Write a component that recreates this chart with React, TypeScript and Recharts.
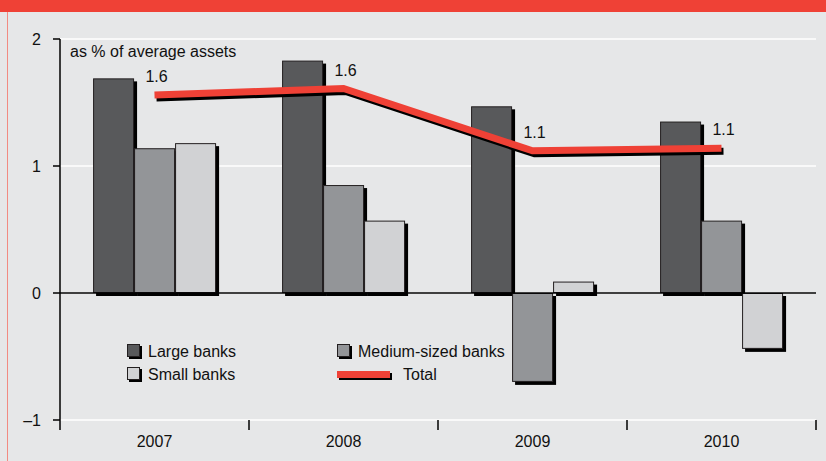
import React from 'react';
import {
  ComposedChart,
  Bar,
  Line,
  XAxis,
  YAxis,
  CartesianGrid,
  ReferenceLine,
  LabelList,
} from 'recharts';

const years = ['2007', '2008', '2009', '2010'];
const largeBanks = [1.69, 1.83, 1.47, 1.35];
const mediumBanks = [1.14, 0.85, -0.7, 0.57];
const smallBanks = [1.18, 0.57, 0.09, -0.44];
const total = [1.56, 1.61, 1.12, 1.14];
const yTicks = [-1, 0, 1, 2];

const data = years.map((year, i) => ({
  year,
  large: largeBanks[i],
  medium: mediumBanks[i],
  small: smallBanks[i],
  total: total[i],
}));

const RED = '#ef4136';
const BG = '#e6e7e8';

// bar with a hard black drop shadow, like the printed original
function ShadowBar(props: any) {
  const { x, y, width, height, fill } = props;
  if (!width || height == null) return null;
  const top = height < 0 ? y + height : y;
  const h = Math.abs(height);
  return (
    <g>
      <rect x={x + 3} y={top + 3} width={width} height={h} fill="#000" />
      <rect
        x={x + 0.5}
        y={top + 0.5}
        width={Math.max(width - 1, 0)}
        height={Math.max(h - 1, 0)}
        fill={fill}
        stroke="#231f20"
        strokeWidth={1}
      />
    </g>
  );
}

// year label plus tick marks on the category boundaries
function YearTick(props: any) {
  const { x, y, payload } = props;
  const half = payload.offset ?? 0;
  const top = y - 10;
  const last = payload.value === years[years.length - 1];
  return (
    <g>
      <line x1={x - half} x2={x - half} y1={top} y2={y} stroke="#000" strokeWidth={1.5} />
      {last && <line x1={x + half} x2={x + half} y1={top} y2={y} stroke="#000" strokeWidth={1.5} />}
      <text x={x} y={y + 17} textAnchor="middle" fontSize={16} fill="#111">
        {payload.value}
      </text>
    </g>
  );
}

function TotalLabel(props: any) {
  const { x, y, value } = props;
  return (
    <text x={x + 2} y={y - 13} textAnchor="middle" fontSize={16} fill="#111">
      {Number(value).toFixed(1)}
    </text>
  );
}

function Swatch({ color }: { color: string }) {
  return (
    <div style={{ position: 'relative', width: 15, height: 15, marginRight: 6 }}>
      <div style={{ position: 'absolute', left: 2, top: 2, width: 13, height: 13, background: '#000' }} />
      <div
        style={{
          position: 'absolute',
          left: 0,
          top: 0,
          width: 13,
          height: 13,
          boxSizing: 'border-box',
          background: color,
          border: '1px solid #231f20',
        }}
      />
    </div>
  );
}

const legendRow: React.CSSProperties = {
  position: 'absolute',
  display: 'flex',
  alignItems: 'center',
  fontSize: 16,
  lineHeight: '15px',
  color: '#111',
};

export default function App() {
  return (
    <div
      style={{
        position: 'relative',
        width: 826,
        height: 461,
        background: BG,
        overflow: 'hidden',
        fontFamily: '"Liberation Sans", Arial, sans-serif',
      }}
    >
      <style>{'body{margin:0}.total-line path.recharts-curve{filter:drop-shadow(2px 3px 0 #000)}'}</style>
      <div style={{ position: 'absolute', left: 0, top: 0, width: 826, height: 12, background: RED }} />
      <div style={{ position: 'absolute', left: 7, top: 12, width: 1, height: 449, background: '#f28b82' }} />

      <div style={{ position: 'absolute', left: 0, top: 0 }}>
        <ComposedChart
          width={826}
          height={461}
          data={data}
          margin={{ top: 39, right: 10, bottom: 0, left: 0 }}
          barCategoryGap="17.5%"
          barGap={0}
        >
          <CartesianGrid vertical={false} stroke="#fff" strokeWidth={1.5} />
          <XAxis
            dataKey="year"
            axisLine={false}
            tickLine={false}
            tickSize={10}
            tickMargin={0}
            height={41}
            interval={0}
            tick={<YearTick />}
          />
          <YAxis
            domain={[-1, 2]}
            ticks={yTicks}
            width={60}
            interval={0}
            axisLine={{ stroke: '#000', strokeWidth: 1.5 }}
            tickLine={{ stroke: '#000', strokeWidth: 1.5 }}
            tickSize={7}
            tickMargin={12}
            tick={{ fill: '#111', fontSize: 16 }}
            tickFormatter={(v: number) => String(v).replace('-', '\u2013')}
          />
          <ReferenceLine y={0} stroke="#000" strokeWidth={1.5} />
          <Bar dataKey="large" fill="#58595b" shape={<ShadowBar />} isAnimationActive={false} />
          <Bar dataKey="medium" fill="#939598" shape={<ShadowBar />} isAnimationActive={false} />
          <Bar dataKey="small" fill="#d1d2d4" shape={<ShadowBar />} isAnimationActive={false} />
          <Line
            className="total-line"
            type="linear"
            dataKey="total"
            stroke={RED}
            strokeWidth={7}
            dot={false}
            activeDot={false}
            isAnimationActive={false}
          >
            <LabelList dataKey="total" content={<TotalLabel />} />
          </Line>
        </ComposedChart>
      </div>

      <div style={{ position: 'absolute', left: 70, top: 44, fontSize: 16, lineHeight: '15px', color: '#111' }}>
        as % of average assets
      </div>

      <div style={{ ...legendRow, left: 127, top: 344 }}>
        <Swatch color="#58595b" />
        Large banks
      </div>
      <div style={{ ...legendRow, left: 337, top: 344 }}>
        <Swatch color="#939598" />
        Medium-sized banks
      </div>
      <div style={{ ...legendRow, left: 127, top: 367 }}>
        <Swatch color="#d1d2d4" />
        Small banks
      </div>
      <div style={{ ...legendRow, left: 337, top: 367 }}>
        <div style={{ width: 53, height: 7, background: RED, boxShadow: '2px 2px 0 #000', marginRight: 13 }} />
        Total
      </div>
    </div>
  );
}
